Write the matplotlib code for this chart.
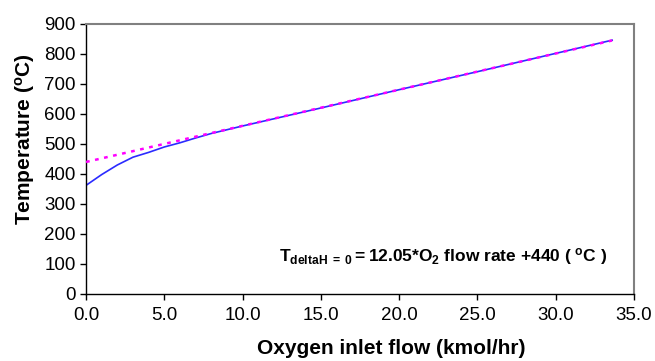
import matplotlib
matplotlib.use('Agg')
import matplotlib.pyplot as plt

plt.rcParams['font.family'] = ['Liberation Sans', 'DejaVu Sans']
plt.rcParams['mathtext.fontset'] = 'custom'
plt.rcParams['mathtext.rm'] = 'Liberation Sans'
plt.rcParams['mathtext.bf'] = 'Liberation Sans:bold'
plt.rcParams['mathtext.it'] = 'Liberation Sans:italic'

# Simulated outlet temperature vs oxygen feed
o2_flow = [0, 1, 2, 3, 4, 5, 6, 7, 8, 10, 15, 20, 25, 30, 33.6]
temp_sim = [362, 398, 430, 456, 472, 490, 504, 520, 535, 560, 620, 681, 741, 802, 846]

# Linear fit for deltaH = 0
fit_flow = [0, 33.6]
fit_temp = [440, 845]

x_ticks = [0, 5, 10, 15, 20, 25, 30, 35]
y_ticks = [0, 100, 200, 300, 400, 500, 600, 700, 800, 900]

fig = plt.figure(figsize=(6.55, 3.61), dpi=100)
ax = fig.add_axes([0.1313, 0.1856, 0.8367, 0.748])

ax.plot(o2_flow, temp_sim, color='#2b2bff', lw=1.2, zorder=2)
ax.plot(fit_flow, fit_temp, color='#ff00ff', lw=1.8, ls=(0, (1.5, 2.2)), zorder=3)

ax.set_xlim(0, 35)
ax.set_ylim(0, 900)
ax.set_xticks(x_ticks)
ax.set_xticklabels([f'{v:.1f}' for v in x_ticks])
ax.set_yticks(y_ticks)
ax.tick_params(direction='out', length=4.5, width=1, labelsize=13.5, colors='black')
ax.tick_params(axis='x', pad=5)
ax.tick_params(axis='y', pad=3)

for side in ['top', 'right']:
    ax.spines[side].set_color('#808080')
    ax.spines[side].set_linewidth(1.5)
for side in ['left', 'bottom']:
    ax.spines[side].set_color('black')
    ax.spines[side].set_linewidth(1.0)

ax.set_xlabel('Oxygen inlet flow (kmol/hr)', fontsize=15, fontweight='bold', va='top')
ax.xaxis.set_label_coords(0.557, -0.165)
ax.set_ylabel('Temperature ($\\mathbf{^{o}C}$)', fontsize=15, fontweight='bold')
ax.yaxis.set_label_coords(-0.09, 0.574)

ax.text(12.3, 110,
        r'$\mathbf{T_{deltaH\ =\ 0}{=}12.05{*}O_2\ flow\ rate\ {+}440\ (\ {}^{o}C\ )}$',
        fontsize=12.5, ha='left', va='baseline')

fig.savefig('out.png', dpi=100)
